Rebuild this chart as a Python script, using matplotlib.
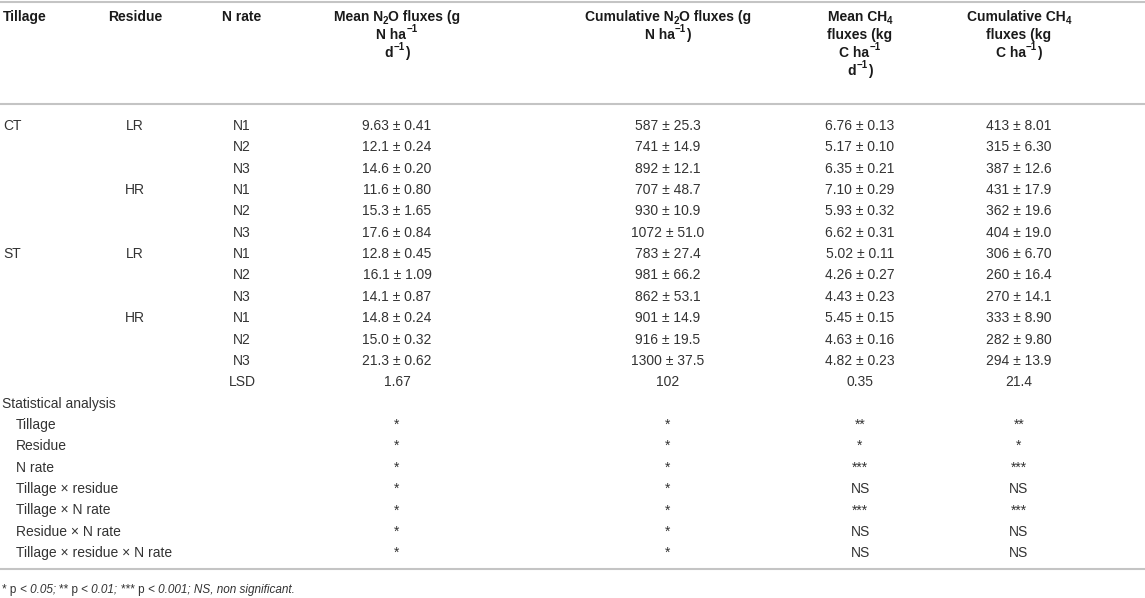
import numpy as np
import matplotlib
matplotlib.use('Agg')
import matplotlib.pyplot as plt

plt.rcParams['font.family'] = ['Liberation Sans', 'DejaVu Sans']

# table content
tillage = ['CT', 'ST']
residue = ['LR', 'HR']
n_rate = ['N1', 'N2', 'N3']

mean_n2o = ['9.63', '12.1', '14.6', '11.6', '15.3', '17.6', '12.8', '16.1', '14.1', '14.8', '15.0', '21.3']
mean_n2o_se = ['0.41', '0.24', '0.20', '0.80', '1.65', '0.84', '0.45', '1.09', '0.87', '0.24', '0.32', '0.62']
cum_n2o = ['587', '741', '892', '707', '930', '1072', '783', '981', '862', '901', '916', '1300']
cum_n2o_se = ['25.3', '14.9', '12.1', '48.7', '10.9', '51.0', '27.4', '66.2', '53.1', '14.9', '19.5', '37.5']
mean_ch4 = ['6.76', '5.17', '6.35', '7.10', '5.93', '6.62', '5.02', '4.26', '4.43', '5.45', '4.63', '4.82']
mean_ch4_se = ['0.13', '0.10', '0.21', '0.29', '0.32', '0.31', '0.11', '0.27', '0.23', '0.15', '0.16', '0.23']
cum_ch4 = ['413', '315', '387', '431', '362', '404', '306', '260', '270', '333', '282', '294']
cum_ch4_se = ['8.01', '6.30', '12.6', '17.9', '19.6', '19.0', '6.70', '16.4', '14.1', '8.90', '9.80', '13.9']
lsd = ['1.67', '102', '0.35', '21.4']

effects = ['Tillage', 'Residue', 'N rate', 'Tillage × residue', 'Tillage × N rate',
           'Residue × N rate', 'Tillage × residue × N rate']
sig_mean_n2o = ['*', '*', '*', '*', '*', '*', '*']
sig_cum_n2o = ['*', '*', '*', '*', '*', '*', '*']
sig_mean_ch4 = ['**', '*', '***', 'NS', '***', 'NS', 'NS']
sig_cum_ch4 = ['**', '*', '***', 'NS', '***', 'NS', 'NS']

# header lines as runs of (text, kind): n = normal, sub = subscript, sup = superscript
headers = [
    [[('Mean N', 'n'), ('2', 'sub'), ('O fluxes (g', 'n')],
     [('N ha', 'n'), ('−1', 'sup')],
     [('d', 'n'), ('−1', 'sup'), (')', 'n')]],
    [[('Cumulative N', 'n'), ('2', 'sub'), ('O fluxes (g', 'n')],
     [('N ha', 'n'), ('−1', 'sup'), (')', 'n')]],
    [[('Mean CH', 'n'), ('4', 'sub')],
     [('fluxes (kg', 'n')],
     [('C ha', 'n'), ('−1', 'sup')],
     [('d', 'n'), ('−1', 'sup'), (')', 'n')]],
    [[('Cumulative CH', 'n'), ('4', 'sub')],
     [('fluxes (kg', 'n')],
     [('C ha', 'n'), ('−1', 'sup'), (')', 'n')]],
]

# layout (pixels, y downwards)
W, H = 1145, 598
x_till, x_res, x_nrate = 3, 135, 242
x_cols = [397, 668, 860, 1019]
row0 = 130
dy = 21.35
head0, head_dy = 21, 18
body_c = '#333333'
head_c = '#1a1a1a'
rule_c = '#c4c4c4'
fs = 10

# widths of header runs, measured on a scratch figure
scratch = plt.figure(figsize=(W / 100, H / 100), dpi=100)
scratch_r = scratch.canvas.get_renderer()


def run_width(s, size):
    t = scratch.text(0, 0, s, fontsize=size, fontweight='bold')
    return t.get_window_extent(scratch_r).width


fig = plt.figure(figsize=(W / 100, H / 100), dpi=100)
ax = fig.add_axes([0, 0, 1, 1])
ax.set_xlim(0, W)
ax.set_ylim(H, 0)
ax.axis('off')


def rich_line(xc, yb, segs, size, color):
    # one header line made of runs, centred on xc with baseline yb
    sizes = [size if kind == 'n' else size * 0.7 for _, kind in segs]
    widths = [run_width(s, sz) for (s, _), sz in zip(segs, sizes)]
    x0 = xc - sum(widths) / 2
    for (s, kind), sz, w in zip(segs, sizes, widths):
        shift = {'n': 0, 'sub': 3, 'sup': -6.5}[kind]
        ax.text(x0, yb + shift, s, fontsize=sz, fontweight='bold', color=color,
                va='baseline', ha='left')
        x0 += w


for y in [1.5, 104, 569]:
    ax.plot([0, W], [y, y], color=rule_c, lw=1.5, solid_capstyle='butt')

# header
ax.text(x_till, head0, 'Tillage', fontsize=fs, fontweight='bold', color=head_c, va='baseline', ha='left')
ax.text(x_res, head0, 'Residue', fontsize=fs, fontweight='bold', color=head_c, va='baseline', ha='center')
ax.text(x_nrate, head0, 'N rate', fontsize=fs, fontweight='bold', color=head_c, va='baseline', ha='center')
for xc, lines in zip(x_cols, headers):
    for k, line in enumerate(lines):
        rich_line(xc, head0 + k * head_dy, line, fs, head_c)
plt.close(scratch)

# body rows
cols = [(mean_n2o, mean_n2o_se), (cum_n2o, cum_n2o_se), (mean_ch4, mean_ch4_se), (cum_ch4, cum_ch4_se)]
i = 0
for t in tillage:
    for r_i, r in enumerate(residue):
        for n_i, n in enumerate(n_rate):
            y = row0 + i * dy
            if r_i == 0 and n_i == 0:
                ax.text(x_till, y, t, fontsize=fs, color=body_c, va='baseline', ha='left')
            if n_i == 0:
                ax.text(x_res, y, r, fontsize=fs, color=body_c, va='baseline', ha='center')
            ax.text(x_nrate, y, n, fontsize=fs, color=body_c, va='baseline', ha='center')
            for xc, (vals, ses) in zip(x_cols, cols):
                ax.text(xc, y, f'{vals[i]} ± {ses[i]}', fontsize=fs, color=body_c,
                        va='baseline', ha='center')
            i += 1

y = row0 + i * dy
ax.text(x_nrate, y, 'LSD', fontsize=fs, color=body_c, va='baseline', ha='center')
for xc, v in zip(x_cols, lsd):
    ax.text(xc, y, v, fontsize=fs, color=body_c, va='baseline', ha='center')
i += 1

y = row0 + i * dy
ax.text(2, y, 'Statistical analysis', fontsize=fs, color=body_c, va='baseline', ha='left')
i += 1
sigs = [sig_mean_n2o, sig_cum_n2o, sig_mean_ch4, sig_cum_ch4]
for k, eff in enumerate(effects):
    y = row0 + (i + k) * dy
    ax.text(16, y, eff, fontsize=fs, color=body_c, va='baseline', ha='left')
    for xc, s in zip(x_cols, sigs):
        ax.text(xc, y, s[k], fontsize=fs, color=body_c, va='baseline', ha='center')

# footnote with italic parts
foot = [('* p', 'normal'), ('< 0.05;', 'italic'), ('** p', 'normal'), ('< 0.01;', 'italic'),
        ('*** p', 'normal'), ('< 0.001; NS, non significant.', 'italic')]
fs_note = 8.5
prev = ax.text(2, 593, foot[0][0], fontsize=fs_note, color=body_c, style=foot[0][1],
               va='baseline', ha='left')
for txt, st in foot[1:]:
    prev = ax.annotate(txt, xy=(1, 0), xycoords=prev, xytext=(fs_note * 0.278, 0),
                       textcoords='offset points', fontsize=fs_note, color=body_c, style=st,
                       va='bottom', ha='left')

fig.savefig('out.png', dpi=100)
